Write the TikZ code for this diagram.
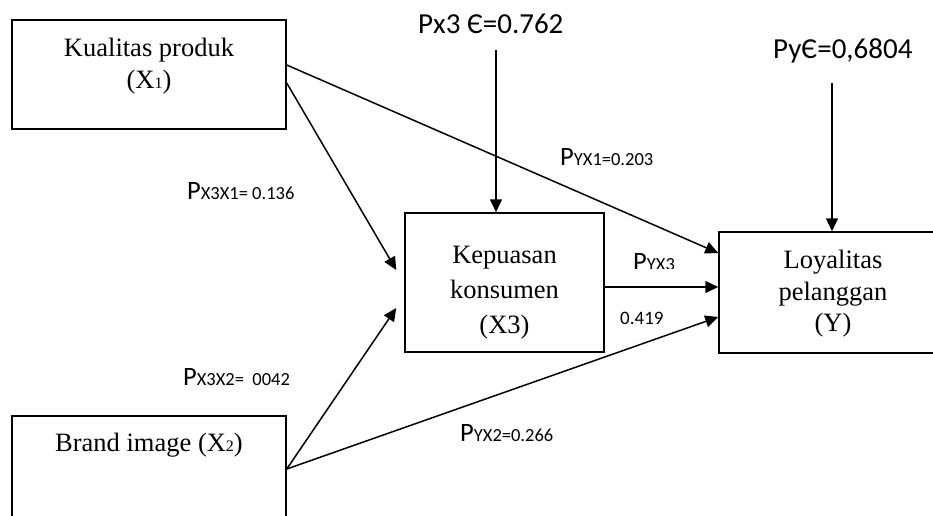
\documentclass[tikz,border=0pt]{standalone}
\usepackage{fontspec}
\setmainfont{Liberation Serif}
\newfontfamily\calfont{Carlito}
\usetikzlibrary{arrows.meta}

\tikzset{
  kotak/.style={draw, line width=1.5pt, inner sep=0pt},
  isi/.style={align=center, inner sep=0pt, anchor=north, font=\fontsize{26.5}{#1}\selectfont},
  panah/.style={line width=1.5pt, -{Triangle[length=13pt,width=12pt]}},
  koefisien/.style={inner sep=0pt, anchor=base west}
}
\newcommand{\koef}[2]{{\calfont\fontsize{26.5}{26.5}\selectfont #1}{\calfont\fontsize{18.5}{18.5}\selectfont #2}}
\newcommand{\kecil}[1]{{\fontsize{16}{16}\selectfont #1}}

\begin{document}
\begin{tikzpicture}[x=1pt,y=-1pt]
			\useasboundingbox (0,0) rectangle (933,515);
			\clip (0,0) rectangle (933,515);
			% variabel
			\node[kotak, minimum width=274pt, minimum height=109pt,
			  label={[isi=32, yshift=-19pt]north:{Kualitas produk\\(X\kecil{1})}}] (kualitas) at (149,74.5) {};
			\node[kotak, minimum width=274pt, minimum height=129pt,
			  label={[isi=32, yshift=-18pt]north:{Brand image (X\kecil{2})}}] (brand) at (149,480.5) {};
			\node[kotak, minimum width=199pt, minimum height=139pt,
			  label={[isi=35, yshift=-34pt]north:{Kepuasan\\konsumen\\(X3)}}] (kepuasan) at (504.5,282.5) {};
			\node[kotak, minimum width=228pt, minimum height=121pt,
			  label={[isi=31.5, yshift=-19pt]north:{Loyalitas\\pelanggan\\(Y)}}] (loyal) at (833,292.5) {};
			% galat
			\node[koefisien] (px3) at (418,33) {\calfont\fontsize{29}{29}\selectfont Px3 Є=0.762};
			\node[koefisien] (py) at (773,58) {\calfont\fontsize{29}{29}\selectfont PyЄ=0,6804};
			\coordinate (e1) at (496,50);
			\coordinate (e2) at (832,83);
			% jalur
			\draw[panah] ([yshift=-8.5pt]kualitas.east) -- ([xshift=-8pt,yshift=12.5pt]kepuasan.west);
			\draw[panah] ([yshift=11.5pt]brand.east) -- ([xshift=-8pt,yshift=-25.5pt]kepuasan.west);
			\draw[panah] ([yshift=9.5pt]kualitas.east) -- ([yshift=39.5pt]loyal.west);
			\draw[panah] ([yshift=-4.5pt]kepuasan.east) -- ([yshift=-4.5pt]kepuasan.east -| loyal.west);
			\draw[panah] ([yshift=11.5pt]brand.east) -- ([yshift=-24.5pt]loyal.west);
			\draw[panah] (e1) -- (e1 |- kepuasan.north);
			\draw[panah] (e2) -- (e2 |- loyal.north);
			% koefisien jalur
			\node[koefisien] (p31) at (187,199) {\koef{P}{X3X1= 0.136}};
			\node[koefisien] (py1) at (560,165) {\koef{P}{YX1=0.203}};
			\begin{scope}
			\clip (620,220) rectangle (700,268);
			\node[koefisien] (py3) at (633,270) {\koef{P}{YX3}};
			\end{scope}
			\node[koefisien] (n3) at (620,324) {\calfont\fontsize{19}{19}\selectfont 0.419};
			\node[koefisien] (p32) at (183,385) {\koef{P}{X3X2=\ \ 0042}};
			\node[koefisien] (py2) at (460,441) {\koef{P}{YX2=0.266}};
		\end{tikzpicture}
\end{document}
